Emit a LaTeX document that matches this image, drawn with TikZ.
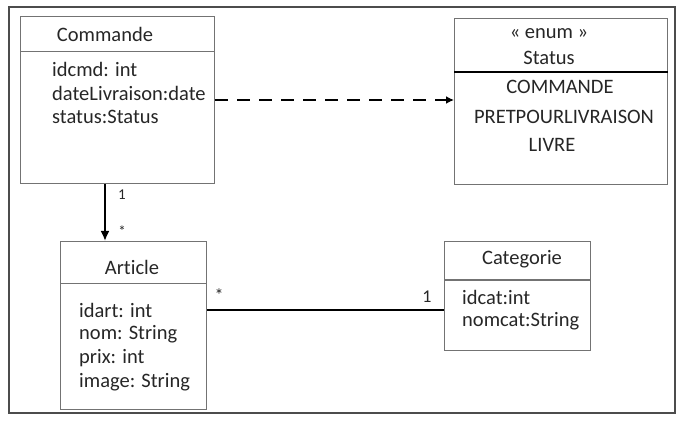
\documentclass[tikz,border=0pt]{standalone}
\usepackage{fontspec}
\setmainfont{Carlito}[Ligatures=NoCommon]
\usetikzlibrary{arrows.meta}

\begin{document}
\begin{tikzpicture}[x=1pt, y=-1pt, text=black!85,
	font=\fontsize{20.5}{24}\selectfont,
	classbox/.style={draw=black!55, line width=1pt, anchor=north west, inner sep=0pt},
	attr/.style={anchor=west, inner sep=0pt},
	mult/.style={inner sep=0pt, font=\fontsize{15}{17}\selectfont},
	]

	\useasboundingbox (0,0) rectangle (697,425);
	\draw[black!70, line width=1.5pt] (9,7) rectangle (675,413); % frame

	% Commande
	\node[classbox, minimum width=194, minimum height=167] (commande) at (20,16) {};
	\draw[black!55, line width=1pt] (commande.west |- 0,52) -- (commande.east |- 0,52);
	\node[inner sep=0pt] (commande-title) at (105,34) {Commande};
	\node[attr] (idcmd) at (52,69) {idcmd: int};
	\node[attr] (datelivraison) at (52,93) {dateLivraison:date};
	\node[attr] (status-attr) at (52,117) {status:Status};

	% Status
	\node[classbox, minimum width=213, minimum height=166] (status) at (454,18) {};
	\draw[black, line width=1.5pt] (status.west |- 0,72) -- (status.east |- 0,72);
	\node[inner sep=0pt] (stereotype) at (549,34) {« enum »};
	\node[inner sep=0pt] (status-title) at (549,58) {Status};
	\node[inner sep=0pt] (lit-commande) at (560,87) {COMMANDE};
	\node[inner sep=0pt] (lit-pret) at (564,117) {PRETPOURLIVRAISON};
	\node[inner sep=0pt] (lit-livre) at (552,145) {LIVRE};

	% Article
	\node[classbox, minimum width=146, minimum height=168] (article) at (60,241) {};
	\draw[black!55, line width=1pt] (article.west |- 0,283) -- (article.east |- 0,283);
	\node[inner sep=0pt] (article-title) at (132,267) {Article};
	\node[attr] (idart) at (79,310) {idart: int};
	\node[attr] (nom) at (79,334) {nom: String};
	\node[attr] (prix) at (79,358) {prix: int};
	\node[attr] (image) at (79,382) {image: String};

	% Categorie
	\node[classbox, minimum width=146, minimum height=109] (categorie) at (444,241) {};
	\draw[black!55, line width=1pt] (categorie.west |- 0,280) -- (categorie.east |- 0,280);
	\node[inner sep=0pt] (categorie-title) at (522,259) {Categorie};
	\node[attr] (idcat) at (462,297) {idcat:int};
	\node[attr] (nomcat) at (462,321) {nomcat:String};

	% links
	\coordinate (dash-level) at (0,100);
	\coordinate (compo-x) at (105,0);
	\draw[-{Latex[length=8pt, width=8pt]}, line width=2.5pt, dash pattern=on 13pt off 9pt]
		(commande.east |- dash-level) -- (status.west |- dash-level);
	\draw[-{Latex[length=10pt, width=9pt]}, line width=2.5pt]
		(commande.south -| compo-x) -- (article.north -| compo-x);
	\draw[line width=2pt] (article.east |- idart) -- (categorie.west |- idart);

	\node[mult] (one-cmd) at (122,195) {1};
	\node[mult] (many-art) at (122,231) {*};
	\node[mult, font=\fontsize{18}{20}\selectfont] (many-cat) at (219,295) {*};
	\node[mult, font=\fontsize{18}{20}\selectfont] (one-cat) at (427,297) {1};

\end{tikzpicture}
\end{document}
